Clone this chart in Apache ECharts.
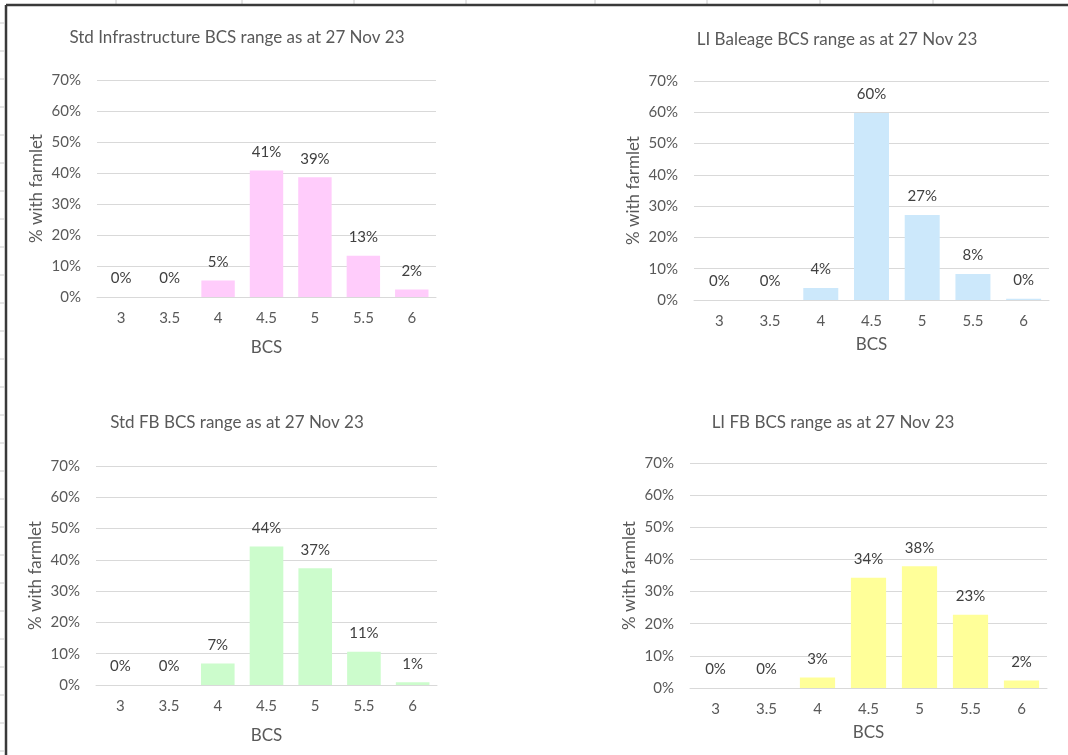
<!DOCTYPE html>
<html>
<head>
<meta charset="utf-8">
<script src="https://cdn.jsdelivr.net/npm/echarts@6/dist/echarts.min.js"></script>
<style>
html,body{margin:0;padding:0;background:#fff;}
#c{width:1068px;height:755px;}
</style>
</head>
<body>
<div id="c"></div>
<script>
const categories = ['3', '3.5', '4', '4.5', '5', '5.5', '6'];
const titles = [
  'Std Infrastructure BCS range as at 27 Nov 23',
  'LI Baleage BCS range as at 27 Nov 23',
  'Std FB BCS range as at 27 Nov 23',
  'LI FB BCS range as at 27 Nov 23'
];
const stdInfra = [0, 0, 0.053, 0.408, 0.386, 0.133, 0.024];
const liBaleage = [0, 0, 0.038, 0.598, 0.272, 0.083, 0.004];
const stdFB = [0, 0, 0.069, 0.443, 0.373, 0.106, 0.009];
const liFB = [0, 0, 0.033, 0.343, 0.379, 0.228, 0.023];
const yTicks = [0, 0.1, 0.2, 0.3, 0.4, 0.5, 0.6, 0.7];

const seriesData = [stdInfra, liBaleage, stdFB, liFB];
const colors = ['#ffccfb', '#cce8fb', '#ccfccc', '#ffff99'];
const FONT = 'Lato, "Open Sans", sans-serif';
const TXT = '#595959';

const grids = [
  {left: 97, right: 632, top: 80, bottom: 458},
  {left: 694, right: 19, top: 81, bottom: 455},
  {left: 96, right: 631, top: 466, bottom: 70},
  {left: 690, right: 21, top: 463, bottom: 67}
];
const titlePos = [[237, 29], [837, 31], [237, 414], [833, 414]];
const xNameGap = [42, 36, 42, 36];

const chart = echarts.init(document.getElementById('c'));

const graphics = [];
graphics.push({type: 'line', shape: {x1: 6, y1: 5, x2: 1068, y2: 5}, style: {stroke: '#3a3a3a', lineWidth: 2.5}, z: 10});
graphics.push({type: 'line', shape: {x1: 6, y1: 5, x2: 6, y2: 755}, style: {stroke: '#3a3a3a', lineWidth: 2.5}, z: 10});
[116, 242, 354, 466, 595, 707, 820, 933].forEach(x => graphics.push({type: 'line', shape: {x1: x, y1: 0, x2: x, y2: 4}, style: {stroke: '#ccc', lineWidth: 1}}));
for (let y = 23; y < 755; y += 28) graphics.push({type: 'line', shape: {x1: 0, y1: y, x2: 4, y2: y}, style: {stroke: '#ccc', lineWidth: 1}});

const option = {
  backgroundColor: '#fff',
  animation: false,
  textStyle: {fontFamily: FONT},
  graphic: graphics,
  title: titles.map((t, i) => ({
    text: t, left: titlePos[i][0], top: titlePos[i][1], textAlign: 'center', padding: 0,
    textStyle: {fontFamily: FONT, fontSize: 17, fontWeight: 'normal', color: TXT}
  })),
  grid: grids,
  xAxis: grids.map((g, i) => ({
    type: 'category', gridIndex: i, data: categories,
    name: 'BCS', nameLocation: 'middle', nameGap: xNameGap[i],
    nameTextStyle: {fontFamily: FONT, fontSize: 17, color: TXT},
    axisTick: {show: false},
    axisLine: {lineStyle: {color: '#d9d9d9', width: 1}},
    axisLabel: {fontFamily: FONT, fontSize: 15, color: TXT, margin: 14}
  })),
  yAxis: grids.map((g, i) => ({
    type: 'value', gridIndex: i, min: yTicks[0], max: yTicks[yTicks.length - 1], interval: 0.1,
    name: '% with farmlet', nameLocation: 'middle', nameGap: 52,
    nameTextStyle: {fontFamily: FONT, fontSize: 17, color: TXT},
    axisLine: {show: false}, axisTick: {show: false},
    splitLine: {lineStyle: {color: '#d9d9d9', width: 1}},
    axisLabel: {fontFamily: FONT, fontSize: 15, color: TXT, margin: 16,
      formatter: v => Math.round(v * 100) + '%'}
  })),
  series: seriesData.map((d, i) => ({
    type: 'bar', xAxisIndex: i, yAxisIndex: i, data: d,
    barCategoryGap: '31%',
    itemStyle: {color: colors[i]},
    label: {show: true, position: 'top', distance: 11, fontFamily: FONT, fontSize: 15, color: '#404040',
      formatter: p => Math.round(p.value * 100) + '%'}
  }))
};
chart.setOption(option);
</script>
</body>
</html>
